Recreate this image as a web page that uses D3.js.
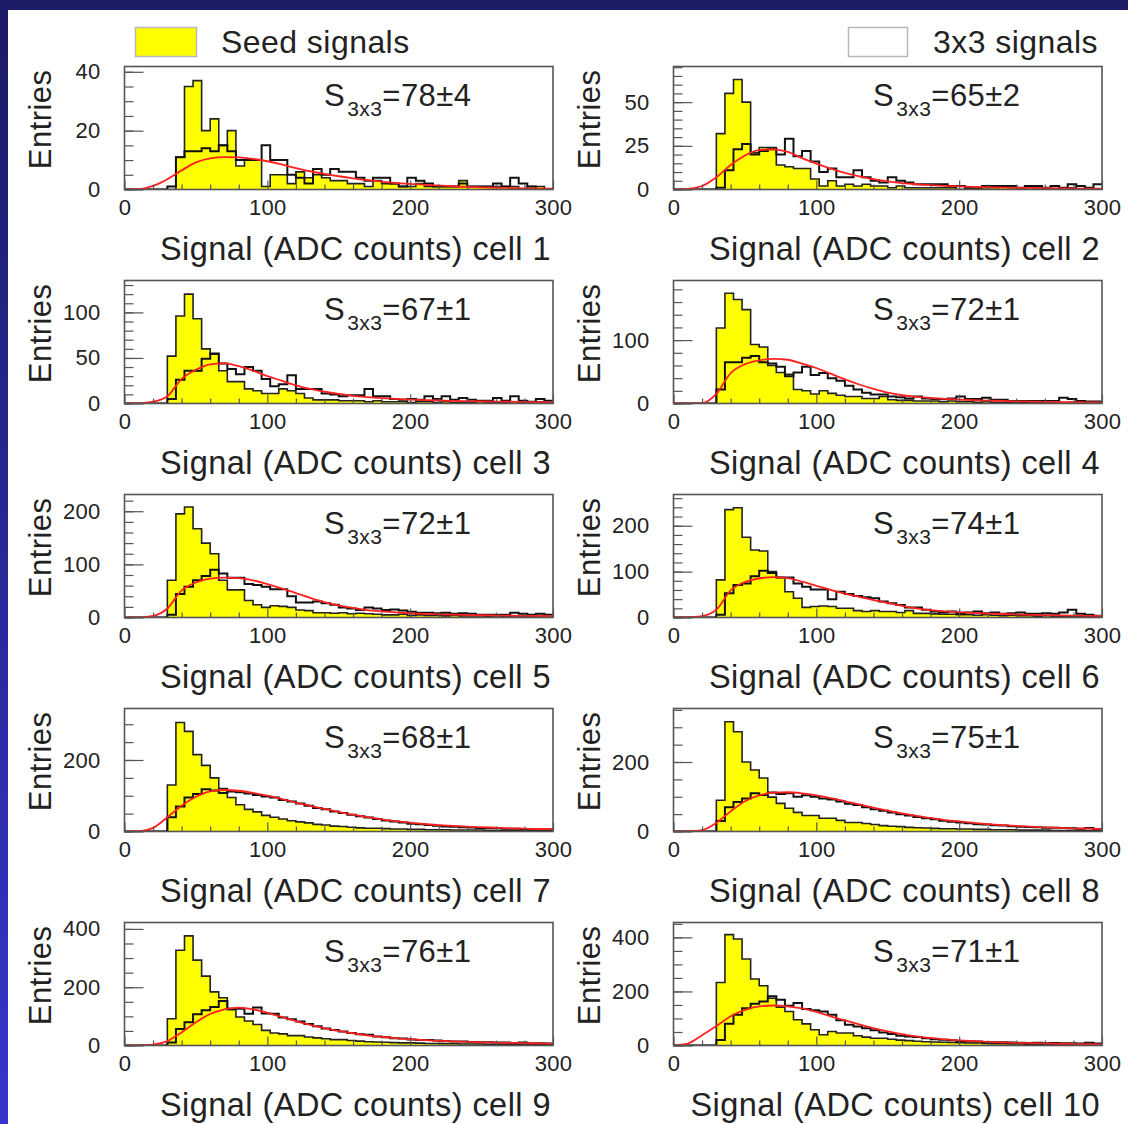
<!DOCTYPE html>
<html>
<head>
<meta charset="utf-8">
<script src="https://cdn.jsdelivr.net/npm/d3@7"></script>
<style>
  body { margin: 0; background: #fff; }
  text { font-family: "Liberation Sans", Arial, sans-serif; fill: #222; }
  .big { letter-spacing: 0.45px; }
</style>
</head>
<body>
<svg id="chart" width="1128" height="1124"></svg>
<script>
// bin edges of the histograms (6 ADC counts per bin, 0..300)
var binEdges = d3.range(0, 301, 6);
// abscissae of the fitted curve samples
var fitX = d3.range(0, 301, 10);

// seed signals (yellow) per bin
var seed1 = [0,0,0,0,0,0,11,35,37,20,24,15,20,8,10,10,1,5,5,2,6,4,5,4,3,3,2,2,1,3,2,2,1,1,2,1,1,1,1,3,1,1,1,1,1,1,0,1,1,0];
var seed2 = [0,0,0,0,0,32,55,63,50,21,24,24,14,13,12,12,6,2,5,2,3,2,3,2,2,1,2,1,1,1,1,1,1,0,1,1,1,1,2,1,1,0,1,1,0,1,1,0,1,0];
var seed3 = [0,0,0,0,0,52,96,120,93,60,54,36,24,24,16,14,11,11,16,14,11,6,4,4,4,3,3,3,2,3,2,2,2,1,2,2,1,2,1,1,1,2,1,1,1,2,1,1,2,1];
var seed4 = [0,0,0,0,0,119,174,164,148,93,89,60,49,46,22,20,15,20,16,13,11,11,8,8,11,6,5,5,4,4,4,3,4,3,3,2,3,2,2,2,2,2,1,2,2,1,2,1,1,1];
var seed5 = [0,0,0,0,0,70,195,208,167,140,120,70,52,52,32,24,19,22,21,19,14,13,9,9,8,9,7,8,7,6,5,5,6,4,5,4,4,3,4,3,3,3,2,3,2,3,2,2,2,2];
var seed6 = [0,0,0,0,0,82,235,239,175,147,145,100,87,56,42,22,24,25,24,20,20,15,13,15,13,13,11,15,9,9,8,7,7,6,6,5,6,5,4,5,4,4,3,4,3,3,3,2,3,2];
var seed7 = [0,0,0,0,0,130,305,280,215,185,150,120,95,75,62,55,45,40,35,30,27,24,20,18,15,14,12,10,9,9,8,7,7,6,6,5,5,5,4,4,4,4,3,3,3,3,3,2,3,2];
var seed8 = [0,0,0,0,0,90,316,287,200,177,154,99,81,67,55,46,46,38,38,32,26,26,23,20,17,15,14,12,11,10,9,8,8,7,7,6,6,5,5,5,4,4,4,4,3,3,3,3,3,2];
var seed9 = [0,0,0,0,0,92,327,376,293,238,184,164,123,98,84,72,52,43,40,34,34,29,26,23,20,20,17,15,13,12,11,10,9,9,8,7,7,6,6,5,5,5,4,4,4,4,3,3,3,3];
var seed10 = [0,0,0,0,0,233,410,394,320,246,221,175,142,126,95,80,58,40,52,46,46,36,31,27,27,23,20,18,16,14,13,12,11,10,9,9,8,7,7,6,6,5,5,5,4,4,4,4,3,3];

// 3x3 signals (open histogram) per bin
var sum1 = [0,0,0,0,0,1,11,13,13,14,13,15,13,10,10,10,15,10,10,5,4,2,7,5,7,6,6,4,3,4,4,2,1,4,3,2,1,1,1,2,1,1,1,2,1,4,2,1,0,0];
var sum2 = [0,0,0,0,0,1,11,23,26,20,22,23,20,29,19,22,16,10,12,7,7,11,7,5,4,7,5,4,3,3,3,3,2,2,1,1,2,2,2,2,1,2,2,1,2,1,3,2,1,3];
var sum3 = [0,0,0,0,0,5,26,36,36,49,55,44,38,32,40,36,27,19,21,31,16,16,16,11,10,8,9,9,16,8,8,5,4,5,4,8,5,8,4,6,4,3,3,6,3,8,3,2,5,3];
var sum4 = [0,0,0,0,0,22,65,65,72,75,65,63,58,43,49,58,45,48,40,36,28,22,17,14,14,11,10,8,11,8,7,7,8,11,7,7,9,6,6,4,4,4,4,4,4,9,7,4,3,3];
var sum5 = [0,0,0,0,0,5,44,58,70,78,90,83,75,75,63,61,58,53,53,40,28,28,30,27,24,19,17,14,19,17,14,15,13,11,9,9,8,9,7,8,7,5,5,5,5,9,7,5,7,5];
var sum6 = [0,0,0,0,0,6,53,71,74,90,102,97,87,87,74,67,61,61,40,56,51,47,44,42,35,31,27,22,22,17,13,11,13,8,11,13,9,11,8,9,11,8,8,9,8,11,17,8,6,4];
var sum7 = [0,0,0,0,0,40,70,95,105,118,115,108,112,110,106,102,98,95,88,84,78,72,66,62,56,52,47,43,39,35,31,28,25,22,20,18,16,14,13,12,11,10,9,9,8,8,7,7,6,6];
var sum8 = [0,0,0,0,0,30,70,85,95,110,105,112,108,110,100,104,100,95,92,86,80,76,70,64,60,55,50,46,42,38,35,31,28,26,24,21,20,18,17,15,14,13,12,11,11,10,9,8,10,7];
var sum9 = [0,0,0,0,0,10,57,80,107,121,132,153,126,126,109,130,110,109,96,90,82,74,66,58,53,48,43,39,37,31,28,25,24,21,19,19,17,15,14,14,12,11,11,10,10,9,10,8,8,7];
var sum10 = [0,0,0,0,0,20,80,114,138,154,163,182,169,147,157,135,130,126,114,93,77,70,64,56,48,43,36,33,31,27,23,21,19,17,16,15,13,12,12,11,10,9,10,8,9,8,8,7,10,7];

// fitted curve samples at fitX
var fit1 = [0,0.1,1.2,3.5,6.5,9.2,10.6,11,10.9,10.4,9.6,8.5,7.3,6.2,5.3,4.5,3.8,3.2,2.7,2.2,1.9,1.6,1.4,1.1,0.9,0.75,0.6,0.5,0.4,0.3,0.25];
var fit2 = [0,0.3,2,7,14,19.5,22.5,23,21.5,18,14.8,12,9.5,7.5,5.9,4.7,3.7,3,2.5,2.1,1.8,1.5,1.3,1.1,1,0.9,0.8,0.7,0.6,0.5,0.45];
var fit3 = [0,0.2,2,8,27,37,43,44,41,36,30,25,20,16,13,10.5,8.4,7,5.9,5,4.3,3.8,3.3,2.9,2.6,2.3,2.1,1.9,1.7,1.5,1.4];
var fit4 = [0,0,0.5,15,48,62,68,70.5,69,63,56,47,38,30,23,17,13,10.5,8.7,7.3,6.2,5.3,4.6,4,3.5,3.1,2.7,2.4,2.1,1.9,1.7];
var fit5 = [0,0.3,3,17,51,66,73,75,74,70,63,55,46,37,29,23,18,14,11.5,9.5,8,7,6,5.3,4.7,4.2,3.8,3.4,3.1,2.8,2.6];
var fit6 = [0,0.3,3,17,59,77,85,88,86,78,69,60,52,45,38,32,25.5,20,16,13.5,11.5,10,8.7,7.6,6.7,5.9,5.2,4.6,4.1,3.7,3.3];
var fit7 = [0,0.5,10,40,72,97,112,116,114,108,100,91,81,72,63,55,47,40,34,29,25,21,18,15.5,13.5,12,10.5,9,8,7,6.5];
var fit8 = [0,0.3,4,25,58,87,104,112,113,110,104,96,87,78,69,60,52,45,39,33,29,25,21.5,18.5,16,14,12,10.5,9,8,7];
var fit9 = [0,0.5,3,15,45,80,108,124,130,124,112,98,84,71,60,50,42,35,30,25,21.5,18.5,16,14,12.3,11,9.8,8.8,8,7.3,6.7];
var fit10 = [0,7,38,72,108,132,145,148,145,137,124,108,93,78,64,52,42,34,28,23,19,16,13.5,11.5,10,8.5,7.5,6.5,5.7,5,4.5];

var cellNames = ["1","2","3","4","5","6","7","8","9","10"];
var sLabels = ["78\u00b14","65\u00b12","67\u00b11","72\u00b11","72\u00b11","74\u00b11","68\u00b11","75\u00b11","76\u00b11","71\u00b11"];
var yMax = [41.8, 70.4, 135, 194, 231.5, 268, 344, 354, 422, 455];
var yMajorStep = [20, 25, 50, 100, 100, 100, 200, 200, 200, 200];
var yMinorStep = [5, 5, 10, 20, 20, 20, 50, 50, 50, 50];
var xMajorTicks = [0, 100, 200, 300];
var xMinorTicks = [20, 40, 60, 80, 120, 140, 160, 180, 220, 240, 260, 280];

var seeds = [seed1, seed2, seed3, seed4, seed5, seed6, seed7, seed8, seed9, seed10];
var sums = [sum1, sum2, sum3, sum4, sum5, sum6, sum7, sum8, sum9, sum10];
var fits = [fit1, fit2, fit3, fit4, fit5, fit6, fit7, fit8, fit9, fit10];

var width = 1128, height = 1124;
var colLeft = [124.5, 673.5];
var frameW = 428.5, frameH = 123;
var rowTop = 66.5, rowStep = 214;
var frameColor = "#555";

var svg = d3.select("#chart");
var defs = svg.append("defs");

// background: white page with blue slide border
var grad = defs.append("linearGradient").attr("id", "edge")
    .attr("x1", 0).attr("y1", 0).attr("x2", 0).attr("y2", 1);
grad.append("stop").attr("offset", "0%").attr("stop-color", "#1b1b66");
grad.append("stop").attr("offset", "100%").attr("stop-color", "#3636cc");
svg.append("rect").attr("width", width).attr("height", height).attr("fill", "#fff");
svg.append("rect").attr("width", width).attr("height", 10).attr("fill", "#1b1b66");
svg.append("rect").attr("width", 8).attr("height", height).attr("fill", "url(#edge)");

// legend
svg.append("rect").attr("x", 135.5).attr("y", 27.5).attr("width", 61).attr("height", 29)
    .attr("fill", "#ffff00").attr("stroke", "#b8b8b8").attr("stroke-width", 1.5);
svg.append("text").attr("class", "big").attr("x", 221).attr("y", 53)
    .style("font-size", "32px").text("Seed signals");
svg.append("rect").attr("x", 848.5).attr("y", 27.5).attr("width", 59).attr("height", 29)
    .attr("fill", "#fff").attr("stroke", "#b8b8b8").attr("stroke-width", 1.5);
svg.append("text").attr("class", "big").attr("x", 1098).attr("y", 53).attr("text-anchor", "end")
    .style("font-size", "32px").text("3x3 signals");

var x = d3.scaleLinear().domain([0, 300]).range([0, frameW]);

function stepPoints(values) {
    var pts = values.map(function(v, i) { return { x0: binEdges[i], v: v }; });
    pts.push({ x0: 300, v: values[values.length - 1] });
    return pts;
}

function drawPanel(p) {
    var col = p % 2, row = Math.floor(p / 2);
    var g = svg.append("g")
        .attr("transform", "translate(" + colLeft[col] + "," + (rowTop + row * rowStep) + ")");
    var y = d3.scaleLinear().domain([0, yMax[p]]).range([frameH, 0]);

    defs.append("clipPath").attr("id", "clip" + p)
        .append("rect").attr("width", frameW).attr("height", frameH);

    var plot = g.append("g").attr("clip-path", "url(#clip" + p + ")");

    var area = d3.area().curve(d3.curveStepAfter)
        .x(function(d) { return x(d.x0); })
        .y0(y(0))
        .y1(function(d) { return y(d.v); });
    var line = d3.line().curve(d3.curveStepAfter)
        .x(function(d) { return x(d.x0); })
        .y(function(d) { return y(d.v); });

    plot.append("path").datum(stepPoints(seeds[p]))
        .attr("d", area).attr("fill", "#ffff00");
    plot.append("path").datum(stepPoints(seeds[p]))
        .attr("d", line).attr("fill", "none").attr("stroke", "#222").attr("stroke-width", 1.6);
    plot.append("path").datum(stepPoints(sums[p]))
        .attr("d", line).attr("fill", "none").attr("stroke", "#111").attr("stroke-width", 2);

    var fitLine = d3.line().curve(d3.curveMonotoneX)
        .x(function(d, i) { return x(fitX[i]); })
        .y(function(d) { return y(d); });
    plot.append("path").datum(fits[p])
        .attr("d", fitLine).attr("fill", "none").attr("stroke", "#ff2020").attr("stroke-width", 1.8);

    // x axis: ticks pointing up into the frame
    g.append("g").attr("class", "axis").attr("transform", "translate(0," + frameH + ")")
        .call(d3.axisBottom(x).tickValues(xMinorTicks).tickSizeInner(-5).tickSizeOuter(0).tickFormat(""));
    g.append("g").attr("class", "axis").attr("transform", "translate(0," + frameH + ")")
        .call(d3.axisBottom(x).tickValues(xMajorTicks).tickSizeInner(-9).tickSizeOuter(0)
            .tickPadding(10).tickFormat(d3.format("d")));

    // y axis: ticks pointing right into the frame
    var minor = d3.range(0, yMax[p] + 0.001, yMinorStep[p]);
    var major = d3.range(0, yMax[p] + 0.001, yMajorStep[p]);
    g.append("g").attr("class", "axis")
        .call(d3.axisLeft(y).tickValues(minor).tickSizeInner(-9).tickSizeOuter(0).tickFormat(""));
    g.append("g").attr("class", "axis")
        .call(d3.axisLeft(y).tickValues(major).tickSizeInner(-19).tickSizeOuter(0)
            .tickPadding(24).tickFormat(d3.format("d")));

    g.selectAll(".axis .domain").remove();
    g.selectAll(".axis line").attr("stroke", frameColor).attr("stroke-width", 1.2);
    g.selectAll(".axis text").style("font-size", "22px").attr("fill", "#222")
        .style("letter-spacing", "0.3px")
        .style("font-family", "\"Liberation Sans\", Arial, sans-serif");

    g.append("rect").attr("width", frameW).attr("height", frameH)
        .attr("fill", "none").attr("stroke", frameColor).attr("stroke-width", 1.6);

    // axis titles
    g.append("text").attr("class", "big")
        .attr("x", frameW - 2).attr("y", frameH + 70)
        .attr("text-anchor", "end").style("font-size", "32.5px")
        .text("Signal (ADC counts) cell " + cellNames[p]);
    g.append("text").attr("class", "big")
        .attr("transform", "translate(-74,3) rotate(-90)")
        .attr("text-anchor", "end").style("font-size", "31px")
        .text("Entries");

    // fit result
    var label = g.append("text").attr("class", "big")
        .attr("x", 199.5).attr("y", 39).style("font-size", "31px");
    label.append("tspan").text("S");
    label.append("tspan").attr("dx", 2).attr("dy", 10).style("font-size", "21px").text("3x3");
    label.append("tspan").attr("dy", -10).text("=" + sLabels[p]);
}

for (var p = 0; p < 10; p++) drawPanel(p);
</script>
</body>
</html>
